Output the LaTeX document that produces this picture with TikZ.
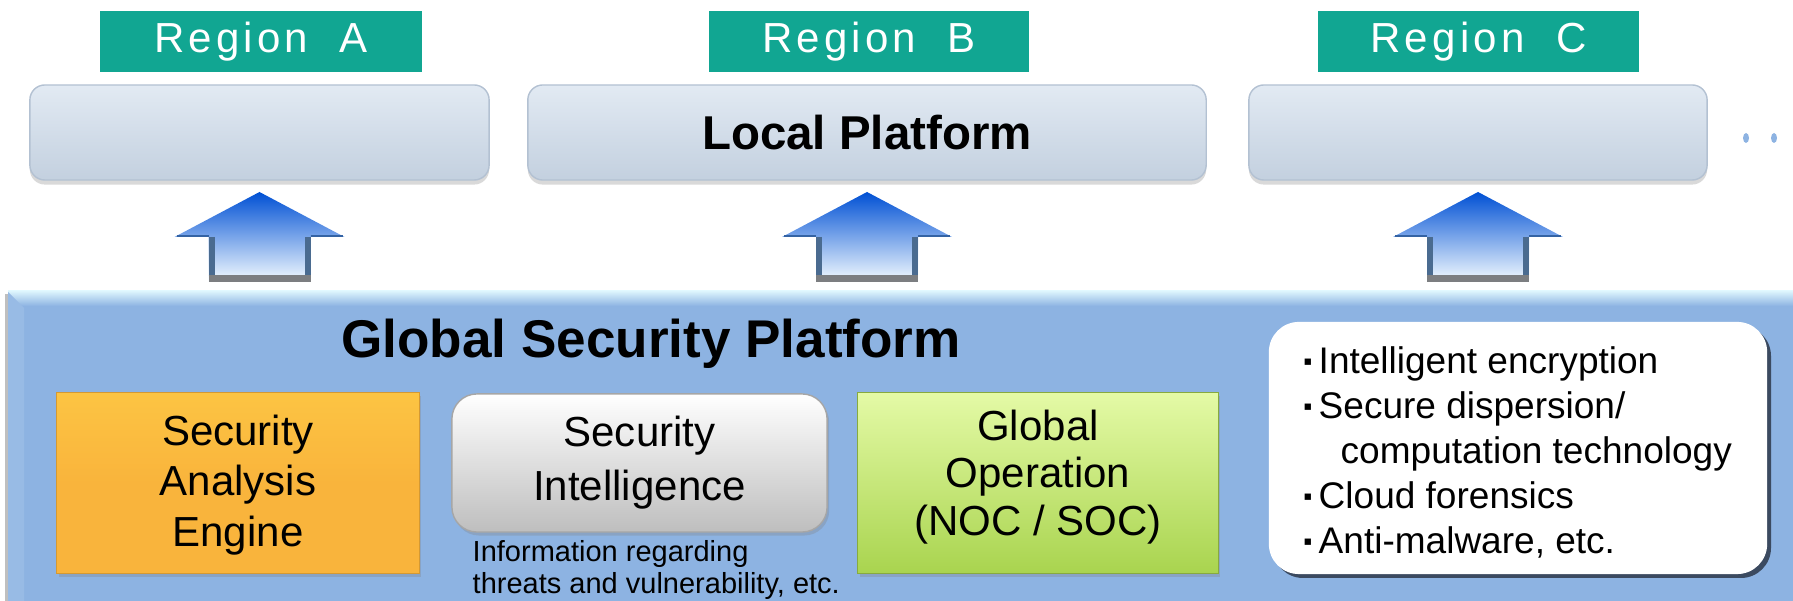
\documentclass[tikz,border=0pt]{standalone}
\usepackage{fontspec}
\setmainfont{Liberation Sans}
\newfontfamily\spacedfont[LetterSpace=10]{Liberation Sans}
\newfontfamily\symfont{DejaVu Sans}
\usetikzlibrary{shadows}

\definecolor{regionteal}{HTML}{11A692}
\definecolor{loctop}{HTML}{E2EAF3}
\definecolor{locmid}{HTML}{CFDBE8}
\definecolor{locbot}{HTML}{C3D0DF}
\definecolor{locrim}{HTML}{B3C1D2}
\definecolor{panelblue}{HTML}{8DB3E2}
\definecolor{panelhi}{HTML}{DDF5FD}
\definecolor{arrowtop}{HTML}{0050D4}
\definecolor{arrowmid}{HTML}{2394FF}
\definecolor{arrowbot}{HTML}{F4FBFF}
\definecolor{arrowside}{HTML}{4A6B90}
\definecolor{arrowfoot}{HTML}{7C7E81}
\definecolor{enginetop}{HTML}{FCC443}
\definecolor{enginebot}{HTML}{F9B43C}
\definecolor{opstop}{HTML}{E4FAA6}
\definecolor{opsbot}{HTML}{A9D44F}
\definecolor{intelbot}{HTML}{BEBEBE}
\definecolor{listshadow}{HTML}{3B4A60}

\newcommand\bul{\makebox[0.15cm][l]{\raisebox{2.4pt}{\symfont\fontsize{3.6}{4}\selectfont ▪}}}

\tikzset{
  regionlabel/.style={fill=regionteal, text=white, minimum height=0.61cm,
    inner sep=0pt, font=\spacedfont\fontsize{11.95}{14}\selectfont},
  localbox/.style={rounded corners=0.15cm, top color=loctop, middle color=locmid,
    bottom color=locbot, draw=locrim, line width=0.4pt, minimum height=0.95cm,
    drop shadow={shadow xshift=0pt, shadow yshift=-1.3pt, opacity=0.3}},
  engbox/.style={minimum width=3.62cm, minimum height=1.8cm, inner sep=0pt,
    font=\fontsize{11.95}{14}\selectfont, align=center,
    drop shadow={shadow xshift=0.6pt, shadow yshift=-1pt, opacity=0.3}},
  boxtext/.style={inner sep=0pt, align=center, font=\fontsize{11.95}{14.4}\selectfont},
}

\begin{document}
\begin{tikzpicture}[x=0.01cm, y=-0.01cm]
\useasboundingbox (0,0) rectangle (1793,601);

% regions
\node[regionlabel, minimum width=3.22cm] (regA) at (261,41.5) {Region\ \ A};
\node[regionlabel, minimum width=3.20cm] (regB) at (869,41.5) {Region\ \ B};
\node[regionlabel, minimum width=3.21cm] (regC) at (1478.5,41.5) {Region\ \ C};

\node[localbox, minimum width=4.59cm] (locA) at (259.5,132.5) {};
\node[localbox, minimum width=6.78cm, font=\bfseries\fontsize{13.5}{16}\selectfont] (locB) at (867,132.5) {Local Platform};
\node[localbox, minimum width=4.58cm] (locC) at (1478,132.5) {};
\fill[panelblue] (1746,138) ellipse [x radius=0.03cm, y radius=0.05cm];
\fill[panelblue] (1774,138) ellipse [x radius=0.03cm, y radius=0.05cm];

% arrows up
\foreach \c in {259.5,867,1478}{
  \shade[top color=arrowtop, middle color=arrowmid, bottom color=arrowbot]
    (\c,192) -- (\c+85,237) -- (\c+51,237) -- (\c+51,282) -- (\c-51,282)
    -- (\c-51,237) -- (\c-85,237) -- cycle;
  \draw[arrowside, line width=0.06cm] (\c-48,237) -- (\c-48,282);
  \draw[arrowside, line width=0.06cm] (\c+48,237) -- (\c+48,282);
  \draw[arrowfoot, line width=0.07cm] (\c-51,278.5) -- (\c+51,278.5);
  \draw[arrowside!70!arrowtop, line width=0.025cm] (\c-83,236) -- (\c-51,236);
  \draw[arrowside!70!arrowtop, line width=0.025cm] (\c+51,236) -- (\c+83,236);
}

% global platform
\fill[black!25] (5,294) rectangle (8,601);
\fill[panelblue] (8,292) rectangle (1793,601);
\shade[top color=panelhi, bottom color=panelblue] (8,291) rectangle (1793,306);
\fill[panelblue!90!white] (8,292) -- (24,308) -- (24,601) -- (8,601) -- cycle;

\node[inner sep=0pt, anchor=base, font=\bfseries\fontsize{15.1}{18}\selectfont] (gsp) at (651,358) {Global Security Platform};

\node[engbox, top color=enginetop, bottom color=enginebot, middle color=enginebot,
  draw=enginebot!85!black, line width=0.3pt] (engine) at (238,483) {};
\node[boxtext] at ([yshift=-0.02cm]engine.center) {Security\\Analysis\\Engine};

\node[engbox, minimum width=3.75cm, minimum height=1.38cm, rounded corners=0.25cm,
  top color=white, middle color=white!94!black, bottom color=intelbot,
  draw=black!35, line width=0.4pt] (intel) at (639.5,463) {};
\node[boxtext, font=\fontsize{11.95}{15.4}\selectfont] at (intel.center) {Security\\Intelligence};
\node[inner sep=0pt, anchor=north west, align=left, font=\fontsize{8.25}{9.1}\selectfont]
  (intelnote) at (472,540) {Information regarding\\threats and vulnerability, etc.};

\node[engbox, minimum width=3.6cm, top color=opstop, bottom color=opsbot,
  draw=opsbot!80!black, line width=0.3pt] (ops) at (1038,483) {};
\node[boxtext, font=\fontsize{11.95}{13.6}\selectfont] at ([yshift=0.06cm]ops.center) {Global\\Operation\\(NOC / SOC)};

\fill[listshadow, rounded corners=0.3cm] (1273,326) rectangle (1771,578);
\node[fill=white, rounded corners=0.3cm, minimum width=4.98cm, minimum height=2.52cm] (techs) at (1518,448) {};
\node[inner sep=0pt, anchor=north west, align=left, font=\fontsize{10.53}{12.8}\selectfont]
  (techlist) at (1303,346) {\bul Intelligent encryption\\\bul Secure dispersion/\\\hspace*{0.37cm}computation technology\\\bul Cloud forensics\\\bul Anti-malware, etc.};
\end{tikzpicture}
\end{document}
